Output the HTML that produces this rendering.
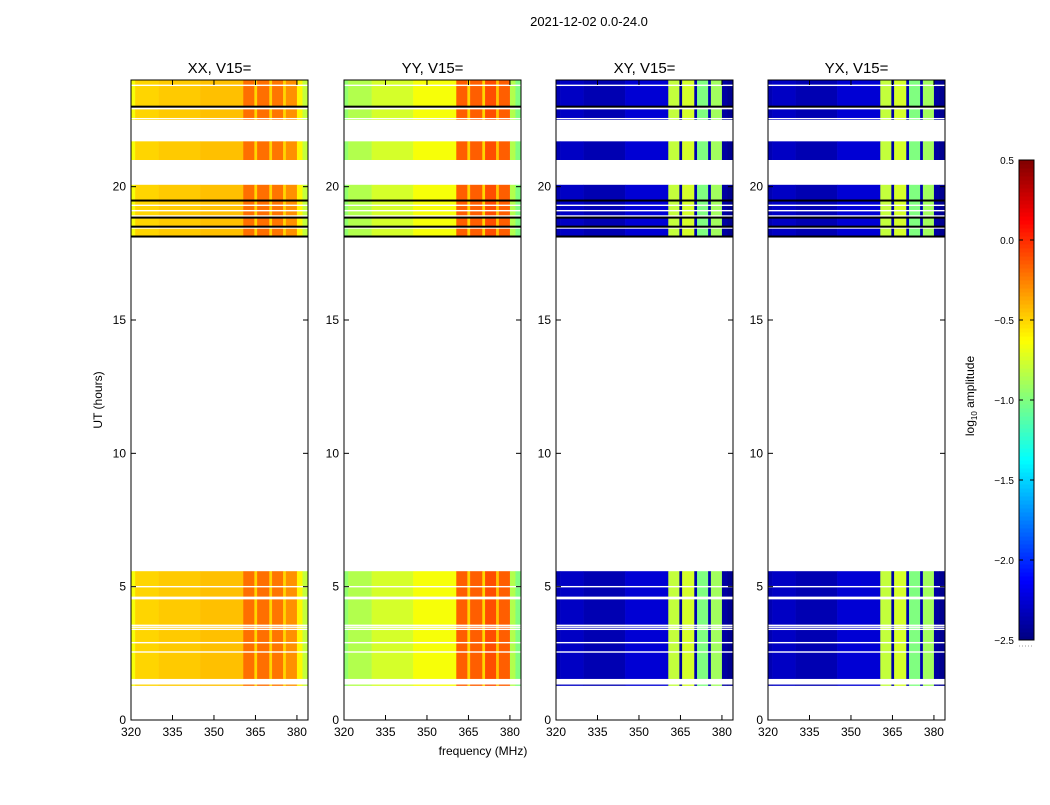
<!DOCTYPE html>
<html><head><meta charset="utf-8"><style>
body{margin:0;background:#fff;}
svg text{font-family:"Liberation Sans",sans-serif;fill:#000;}
</style></head><body>
<svg id="fig" width="1050" height="800" xmlns="http://www.w3.org/2000/svg">
<rect width="1050" height="800" fill="#fff"/>
<text x="589" y="26" font-size="13" text-anchor="middle">2021-12-02 0.0-24.0</text>
<text x="483" y="755" font-size="12" text-anchor="middle">frequency (MHz)</text>
<text transform="translate(102,400) rotate(-90)" font-size="12" text-anchor="middle">UT (hours)</text>
<g id="panels"></g>
<g id="cbar"></g>
</svg>
<script>
const panelNames = ["XX, V15=", "YY, V15=", "XY, V15=", "YX, V15="];
const panelLeft = [131, 344, 556, 768];
const timeBands = [[1.54,5.58],[1.28,1.33],[18.13,20.07],[21.0,21.7],[22.5,22.9],[23.0,24.0]];
const whiteLines = [23.8,22.55,19.3,19.1,18.9,18.45,5.0,4.6,4.55,3.55,3.48,3.4,2.9,2.55];
const blackLines = [23.0,19.48,18.84,18.5,18.13];
const freqEdges = [320,321.5,330,345,360.6,364.6,365.6,370,371,375,376,380,382,384];
const valsXX = [-0.65,-0.5,-0.47,-0.44,-0.2,-0.5,-0.2,-0.5,-0.22,-0.5,-0.3,-0.6,-0.8];
const valsYY = [-0.95,-0.85,-0.75,-0.65,-0.15,-0.5,-0.15,-0.5,-0.1,-0.45,-0.15,-0.85,-1.0];
const valsXY = [-2.35,-2.3,-2.35,-2.25,-0.8,-2.4,-0.75,-2.35,-1.0,-2.35,-0.9,-2.4,-2.45];
const valsYX = [-2.35,-2.3,-2.35,-2.25,-0.8,-2.4,-0.75,-2.35,-1.0,-2.35,-0.9,-2.4,-2.45];
const panelVals = [valsXX, valsYY, valsXY, valsYX];
const yTicks = [0,5,10,15,20];
const xTicks = [320,335,350,365,380];
const cbTicks = [0.5,0.0,-0.5,-1.0,-1.5,-2.0,-2.5];

const NS = "http://www.w3.org/2000/svg";
const W = 177, TOP = 80, BOT = 720;
const vmin = -2.5, vmax = 0.5;
function yScale(h){ return BOT - (h/24)*(BOT-TOP); }
function xScale(f, x0){ return x0 + (f-320)/(384-320)*W; }
function jet(v){
  let t = Math.max(0, Math.min(1, (v-vmin)/(vmax-vmin)));
  const c = x => Math.round(255*Math.max(0, Math.min(1, 1.5 - Math.abs(4*t - x))));
  return `rgb(${c(3)},${c(2)},${c(1)})`;
}
function mk(tag, attrs, parent){
  const e = document.createElementNS(NS, tag);
  for (const k in attrs) e.setAttribute(k, attrs[k]);
  parent.appendChild(e); return e;
}
const pg = document.getElementById('panels');
panelNames.forEach((name, p) => {
  const x0 = panelLeft[p];
  const g = mk('g', {}, pg);
  
  
  timeBands.forEach(b => {
    for (let i = 0; i < freqEdges.length-1; i++) {
      const xa = xScale(freqEdges[i], x0), xb = xScale(freqEdges[i+1], x0);
      const r = mk('rect', {x: xa, y: yScale(b[1]), width: xb-xa+0.3, height: yScale(b[0])-yScale(b[1]), fill: jet(panelVals[p][i])}, g);
      
      
    }
  });
  whiteLines.forEach(h => {
    const l = mk('rect', {x: x0, y: yScale(h)-0.7, width: W, height: 1.4, fill: '#fff'}, g);
    
    
  });
  blackLines.forEach(h => {
    const l = mk('rect', {x: x0, y: yScale(h)-1, width: W, height: 2, fill: '#000'}, g);
    
    
  });
  const fr = mk('rect', {x: x0, y: TOP, width: W, height: BOT-TOP, fill: 'none', stroke: '#000', 'stroke-width': 1}, g);
  
  
  const t = mk('text', {x: x0 + W/2, y: 73, 'font-size': 15, 'text-anchor': 'middle'}, g);
  t.textContent = name;
  
  
  yTicks.forEach(v => {
    const y = yScale(v);
    mk('line', {x1: x0, x2: x0+5, y1: y, y2: y, stroke: '#000'}, g);
    mk('line', {x1: x0+W-5, x2: x0+W, y1: y, y2: y, stroke: '#000'}, g);
    const tl = mk('text', {x: x0-5, y: y+4, 'font-size': 12, 'text-anchor': 'end'}, g);
    tl.textContent = v;
    
    
  });
  xTicks.forEach(v => {
    const x = xScale(v, x0);
    mk('line', {x1: x, x2: x, y1: BOT, y2: BOT-5, stroke: '#000'}, g);
    mk('line', {x1: x, x2: x, y1: TOP, y2: TOP+5, stroke: '#000'}, g);
    const tl = mk('text', {x: x, y: BOT+16, 'font-size': 12, 'text-anchor': 'middle'}, g);
    tl.textContent = v;
    
    
  });
});
// colorbar
const cb = document.getElementById('cbar');


const CBX = 1019, CBW = 15, CBT = 160, CBB = 640;
function cbY(v){ return CBB - (v - vmin)/(vmax-vmin)*(CBB-CBT); }
for (let i = 0; i < 120; i++) {
  const v = vmin + (i+0.5)/120*(vmax-vmin);
  const y0 = cbY(vmin + (i+1)/120*(vmax-vmin));
  const s = mk('rect', {x: CBX, y: y0, width: CBW, height: (CBB-CBT)/120+0.5, fill: jet(v)}, cb);
  
  
}
mk('rect', {x: CBX, y: CBT, width: CBW, height: CBB-CBT, fill: 'none', stroke: '#000'}, cb);
cbTicks.forEach(v => {
  const y = cbY(v);
  mk('line', {x1: CBX, x2: CBX+4, y1: y, y2: y, stroke: '#000'}, cb);
  mk('line', {x1: CBX+CBW-4, x2: CBX+CBW, y1: y, y2: y, stroke: '#000'}, cb);
  const tl = mk('text', {x: CBX-5, y: y+4, 'font-size': 10, 'text-anchor': 'end'}, cb);
  tl.textContent = (v < 0 ? '\u2212' : '') + Math.abs(v).toFixed(1);
  
  
});
mk('line', {x1: CBX, x2: CBX+CBW, y1: CBB+6, y2: CBB+6, stroke: '#999', 'stroke-dasharray': '1,2'}, cb);
const cl = mk('text', {transform: 'translate(974,396) rotate(-90)', 'font-size': 12, 'text-anchor': 'middle'}, cb);
cl.innerHTML = 'log<tspan font-size="8" dy="3">10</tspan><tspan dy="-3"> amplitude</tspan>';


</script>
</body></html>
